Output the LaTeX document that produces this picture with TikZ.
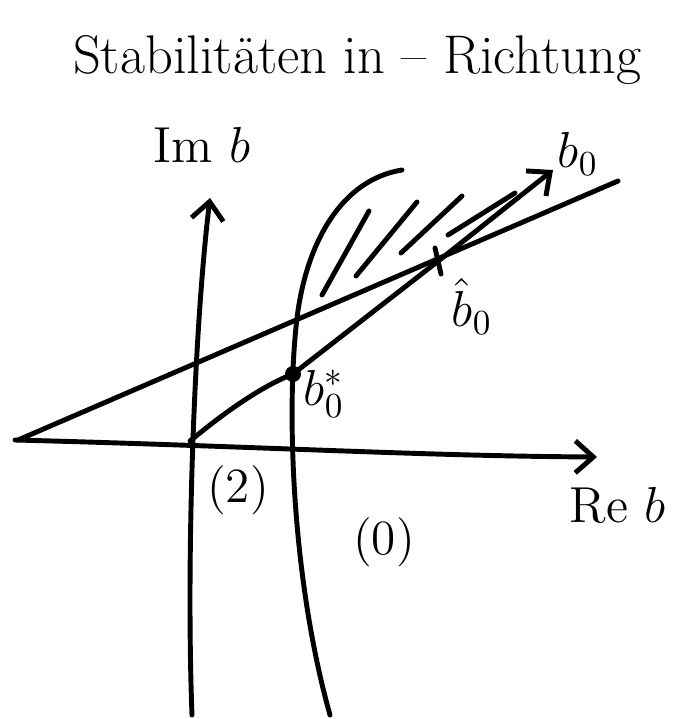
\documentclass[tikz,border=0pt]{standalone}
\usepackage{amsmath}
\usepackage{xcolor}
\usetikzlibrary{
  positioning,
  arrows.meta,
  calc
}
\definecolor{inkBlack}{HTML}{000000}
\tikzset{
  ink/.style     = {draw=inkBlack, line width=1.4pt,
                    line cap=round, line join=round},
  axis/.style    = {ink, -{Straight Barb[length=1.8mm, width=3.2mm]}},
  hatch/.style   = {ink},
  title/.style   = {font=\fontsize{15.5}{18}\selectfont, text=inkBlack},
  lbl/.style     = {font=\Large, text=inkBlack, inner sep=1pt},
  region/.style  = {font=\fontsize{14}{16}\selectfont, text=inkBlack},
  dot/.style     = {circle, fill=inkBlack, inner sep=0pt, minimum size=1.6mm}
}

\begin{document}
\begin{tikzpicture}[x=0.1mm, y=-0.1mm]
\useasboundingbox (0,0) rectangle (673,719);

% title
\node[title] (head) at (357,60) {Stabilitäten in -- Richtung};

% axes
\coordinate (reStart) at (15,440);
\coordinate (reEnd)   at (597,457);
\coordinate (imStart) at (192,715);
\coordinate (imEnd)   at (210,198);
\coordinate (origin)  at (190,441);
\draw[axis] (reStart) .. controls (250,446) and (420,456) .. (reEnd);
\draw[axis] (imStart) .. controls (186,560) and (194,330) .. (imEnd);
\node[lbl] (imLabel) at (202,145) {Im $b$};
\node[lbl, anchor=east] (reLabel) at (670,505) {Re $b$};

% stability boundary with hatching
\coordinate (bndLow)  at (330,715);
\coordinate (bndMid)  at (297,318);
\coordinate (bndTop)  at (402,170);
\draw[ink] (bndLow) .. controls (292,580) and (286,410) .. (bndMid)
           .. controls (306,245) and (340,180) .. (bndTop);
\foreach \xa/\ya/\xb/\yb in {322/295/369/211, 356/276/417/202,
                             401/253/462/196, 448/235/515/193}
  \draw[hatch] (\xa,\ya) -- (\xb,\yb);

% straight line through the origin region
\coordinate (lineStart) at (18,440);
\coordinate (lineEnd)   at (618,181);
\draw[ink] (lineStart) -- (lineEnd);

% direction b0 with points b0* and hat b0
\coordinate (bStar) at (293,374);
\coordinate (bHat)  at (437,262);
\coordinate (bTip)  at (553,170);
\draw[ink] (origin) .. controls (225,412) and (262,386) .. (bStar);
\draw[axis] (bStar) -- (bHat) -- (bTip);
\node[dot] (starDot) at (bStar) {};
\draw[ink] (435,248) -- (441,274);

\node[lbl] (bZero)    at (578,154) {$b_0$};
\node[lbl] (bHatLbl)  at (472,306) {$\hat{b}_0$};
\node[lbl] (bStarLbl) at (324,394) {$b_0^{*}$};

% regions
\node[region] (regTwo)  at (238,490) {(2)};
\node[region] (regZero) at (384,542) {(0)};
\end{tikzpicture}
\end{document}
